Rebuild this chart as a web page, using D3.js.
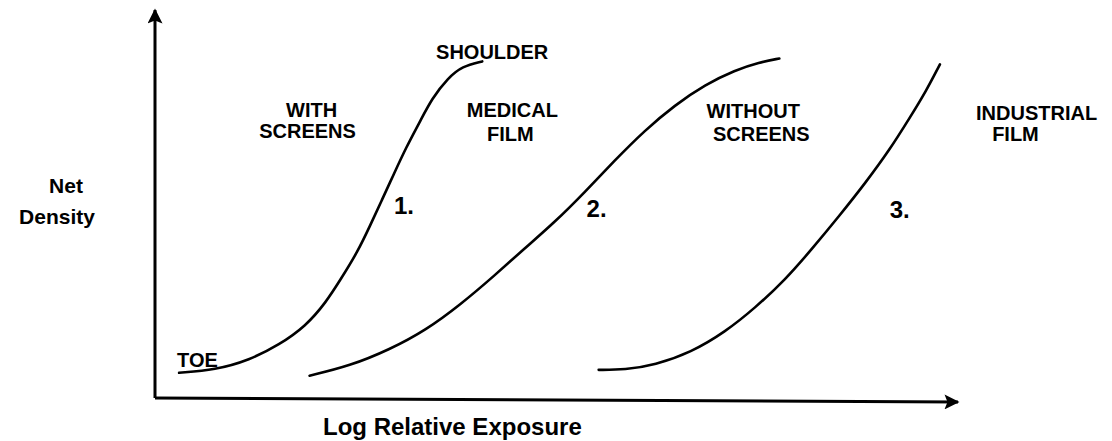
<!DOCTYPE html>
<html>
<head>
<meta charset="utf-8">
<script src="https://cdn.jsdelivr.net/npm/d3@7"></script>
<style>
  html, body { margin: 0; padding: 0; background: #fff; }
  text { font-family: "Liberation Sans", Arial, sans-serif; font-weight: bold; fill: #000; }
</style>
</head>
<body>
<svg id="chart" width="1112" height="441"></svg>
<script>
// ---- Data (log relative exposure vs net density, arbitrary units) ----
const curve1X = [0.12, 0.30, 0.47, 0.62, 0.75, 0.85, 0.93, 1.01, 1.07, 1.13, 1.19, 1.25, 1.32, 1.38, 1.46, 1.53, 1.63];
const curve1Y = [0.26, 0.29, 0.39, 0.55, 0.74, 0.98, 1.24, 1.51, 1.77, 2.04, 2.31, 2.58, 2.85, 3.09, 3.30, 3.42, 3.47];

const curve2X = [0.77, 0.97, 1.17, 1.35, 1.52, 1.69, 1.84, 1.99, 2.14, 2.29, 2.44, 2.59, 2.74, 2.89, 3.01, 3.11];
const curve2Y = [0.23, 0.33, 0.50, 0.70, 0.96, 1.26, 1.54, 1.81, 2.12, 2.45, 2.76, 3.02, 3.23, 3.38, 3.46, 3.50];

const curve3X = [2.21, 2.34, 2.49, 2.67, 2.84, 2.99, 3.14, 3.27, 3.41, 3.54, 3.66, 3.76, 3.84, 3.91];
const curve3Y = [0.29, 0.29, 0.34, 0.47, 0.68, 0.93, 1.22, 1.53, 1.88, 2.22, 2.56, 2.89, 3.16, 3.44];

const curveNames = ["1.", "2.", "3."];
const curveLabelX = [1.19, 2.15, 3.66];
const curveLabelY = [1.90, 1.87, 1.86];

const annotations = ["SHOULDER", "WITH", "SCREENS", "MEDICAL", "FILM", "WITHOUT", "SCREENS", "INDUSTRIAL", "FILM", "TOE"];
const annotX = [1.40, 0.78, 0.76, 1.78, 1.77, 2.98, 3.02, 4.09, 4.17, 0.11];
const annotY = [3.50, 2.90, 2.68, 2.90, 2.65, 2.89, 2.65, 2.87, 2.65, 0.32];
const annotAnchor = ["start", "middle", "middle", "middle", "middle", "middle", "middle", "start", "start", "start"];

const xAxisTitle = "Log Relative Exposure";
const yAxisTitle = ["Net", "Density"];

// ---- Layout ----
const svg = d3.select("#chart");
const x = d3.scaleLinear().domain([0, 4]).range([155, 958]);
const y = d3.scaleLinear().domain([0, 4]).range([398, 10]);

// Arrowhead marker
const defs = svg.append("defs");
defs.append("marker")
  .attr("id", "arrow")
  .attr("viewBox", "0 0 10 10")
  .attr("refX", 9).attr("refY", 5)
  .attr("markerWidth", 6).attr("markerHeight", 5)
  .attr("markerUnits", "strokeWidth")
  .attr("orient", "auto")
  .append("path").attr("d", "M0,0 L10,5 L0,10 L2,5 Z").attr("fill", "#000");

// Axes (drawn as lines with arrow heads; no ticks on the original)
svg.append("line")
  .attr("x1", x(0)).attr("y1", y(0))
  .attr("x2", x(0)).attr("y2", y(4))
  .attr("stroke", "#000").attr("stroke-width", 3)
  .attr("marker-end", "url(#arrow)");
svg.append("line")
  .attr("x1", x(0)).attr("y1", y(0))
  .attr("x2", x(4)).attr("y2", y(0) + 4)
  .attr("stroke", "#000").attr("stroke-width", 3)
  .attr("marker-end", "url(#arrow)");

// Curves
const line = d3.line().x(d => x(d[0])).y(d => y(d[1])).curve(d3.curveBasis);
const curves = [
  d3.zip(curve1X, curve1Y),
  d3.zip(curve2X, curve2Y),
  d3.zip(curve3X, curve3Y)
];
svg.selectAll("path.curve").data(curves).join("path")
  .attr("class", "curve")
  .attr("d", line)
  .attr("fill", "none")
  .attr("stroke", "#000")
  .attr("stroke-width", 2.6)
  .attr("stroke-linecap", "round");

// Curve number labels
svg.selectAll("text.num").data(curveNames).join("text")
  .attr("class", "num")
  .attr("x", (d, i) => x(curveLabelX[i]))
  .attr("y", (d, i) => y(curveLabelY[i]))
  .attr("font-size", 24)
  .text(d => d);

// Annotations
svg.selectAll("text.ann").data(annotations).join("text")
  .attr("class", "ann")
  .attr("x", (d, i) => x(annotX[i]))
  .attr("y", (d, i) => y(annotY[i]))
  .attr("text-anchor", (d, i) => annotAnchor[i])
  .attr("font-size", 20)
  .text(d => d);

// Axis titles
svg.append("text")
  .attr("x", 323).attr("y", 435)
  .attr("font-size", 24)
  .text(xAxisTitle);
svg.append("text").attr("x", 66).attr("y", 193).attr("text-anchor", "middle").attr("font-size", 21).text(yAxisTitle[0]);
svg.append("text").attr("x", 57).attr("y", 224).attr("text-anchor", "middle").attr("font-size", 21).text(yAxisTitle[1]);
</script>
</body>
</html>
